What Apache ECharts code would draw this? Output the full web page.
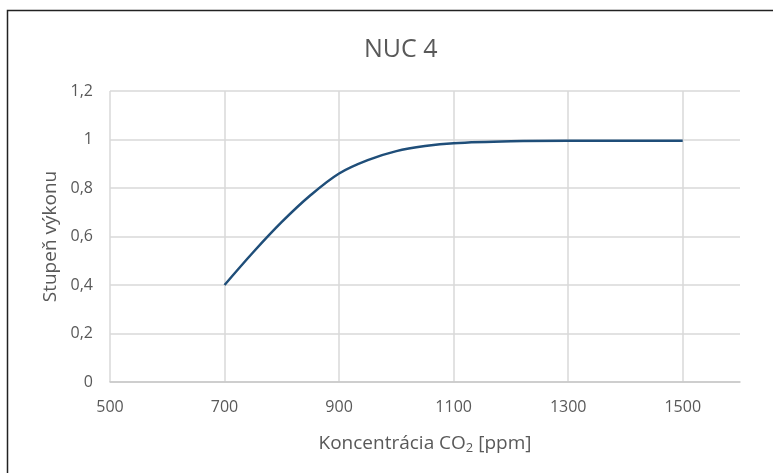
<!DOCTYPE html>
<html>
<head>
<meta charset="utf-8">
<script src="https://cdn.jsdelivr.net/npm/echarts@6/dist/echarts.min.js"></script>
<style>html,body{margin:0;padding:0;background:#fff;}#c{width:773px;height:473px;}</style>
</head>
<body>
<div id="c"></div>
<script>
const titleText = 'NUC 4';
const yName = 'Stupeň výkonu';
const xNameMain = 'Koncentrácia CO';
const xNameSub = '2';
const xNameTail = ' [ppm]';
const xValues = [700, 750, 800, 850, 900, 950, 1000, 1050, 1100, 1200, 1300, 1400, 1500];
const yValues = [0.40, 0.535, 0.66, 0.77, 0.86, 0.915, 0.952, 0.973, 0.985, 0.993, 0.995, 0.995, 0.995];

const chart = echarts.init(document.getElementById('c'));
const font = '"Open Sans", "Liberation Sans", sans-serif';
chart.setOption({
  animation: false,
  backgroundColor: '#fff',
  graphic: [{
    type: 'rect', shape: { x: 7.5, y: 10.5, width: 820, height: 520 },
    style: { fill: 'none', stroke: '#222', lineWidth: 1.5 }, silent: true, z: 100
  }],
  title: {
    text: titleText, left: 359, top: 32,
    textStyle: { fontFamily: font, fontSize: 25, fontWeight: 'normal', color: '#595959' }
  },
  grid: { left: 110, right: 33, top: 91, bottom: 91 },
  xAxis: {
    type: 'value', min: 500, max: 1600, interval: 200,
    name: '{a|' + xNameMain + '}{s|' + xNameSub + '}{a|' + xNameTail + '}',
    nameLocation: 'middle', nameGap: 50,
    nameTextStyle: {
      rich: {
        a: { fontFamily: font, fontSize: 19, color: '#595959' },
        s: { fontFamily: font, fontSize: 13, color: '#595959', padding: [10, 0, 0, 0] }
      }
    },
    axisLine: { show: true, lineStyle: { color: '#c8c8c8', width: 1.5 } },
    axisTick: { show: false },
    axisLabel: {
      margin: 17, showMaxLabel: false, fontFamily: font, fontSize: 16, color: '#595959',
      formatter: v => String(v)
    },
    splitLine: { show: true, showMaxLine: false, lineStyle: { color: '#d9d9d9', width: 1.5 } }
  },
  yAxis: {
    type: 'value', min: 0, max: 1.2, interval: 0.2,
    name: yName, nameLocation: 'middle', nameGap: 46,
    nameTextStyle: { fontFamily: font, fontSize: 19, color: '#595959' },
    axisLine: { show: false },
    axisTick: { show: false },
    axisLabel: {
      margin: 17, fontFamily: font, fontSize: 16, color: '#595959',
      formatter: v => String(Math.round(v * 10) / 10).replace('.', ',')
    },
    splitLine: { show: true, lineStyle: { color: '#d9d9d9', width: 1.5 } }
  },
  series: [{
    type: 'line', smooth: 0.35, showSymbol: false,
    data: xValues.map((x, i) => [x, yValues[i]]),
    lineStyle: { color: '#1f4e79', width: 2.5 }
  }]
});
</script>
</body>
</html>
